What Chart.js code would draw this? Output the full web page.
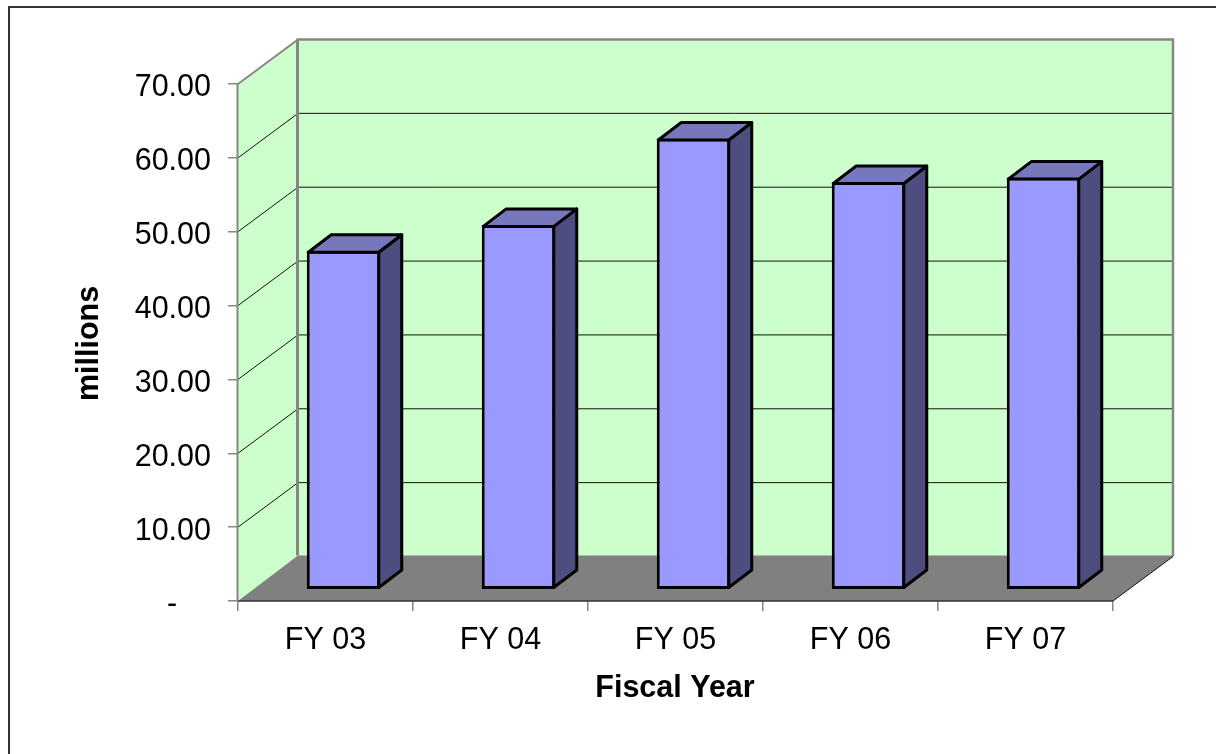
<!DOCTYPE html>
<html>
<head>
<meta charset="utf-8">
<title>Fiscal Year</title>
<script src="https://cdn.jsdelivr.net/npm/chart.js@4/dist/chart.umd.min.js"></script>
<style>
  html, body { margin: 0; padding: 0; background: #fff; }
  #wrap { position: relative; width: 1216px; height: 754px; overflow: hidden; }
  #frame { position: absolute; left: 8px; top: 6px; width: 1300px; height: 900px; border: 2px solid #333; box-sizing: border-box; pointer-events: none; }
  canvas { display: block; }
</style>
</head>
<body>
<div id="wrap">
  <canvas id="chart" width="1216" height="754"></canvas>
  <div id="frame"></div>
</div>
<script>
const categories = ['FY 03', 'FY 04', 'FY 05', 'FY 06', 'FY 07'];
const values = [45.8, 49.3, 61.0, 55.1, 55.7];
const yTicks = [0, 10, 20, 30, 40, 50, 60, 70];
const yAxisTitle = 'millions';
const xAxisTitle = 'Fiscal Year';

const FONT = '"Liberation Sans", Arial, sans-serif';
const WALL = '#ccffcc';
const FLOOR = '#808080';
const AXIS_GRAY = '#868686';
const BAR_LINE = 3;
// Depth of the 3D box, and of each bar
const DX = 60, DY = 44.5;
const BAR_DX = 23, BAR_DY = 17.5;
// Bars stand this far into the floor
const INSET_X = 18, INSET_Y = 12;

const poly = (ctx, pts, fill, stroke, lw) => {
  ctx.beginPath();
  pts.forEach((p, i) => (i ? ctx.lineTo(p[0], p[1]) : ctx.moveTo(p[0], p[1])));
  ctx.closePath();
  if (fill) { ctx.fillStyle = fill; ctx.fill(); }
  if (stroke) { ctx.strokeStyle = stroke; ctx.lineWidth = lw; ctx.lineJoin = 'round'; ctx.stroke(); }
};

const seg = (ctx, x1, y1, x2, y2, color, lw) => {
  ctx.beginPath();
  ctx.moveTo(x1, y1);
  ctx.lineTo(x2, y2);
  ctx.strokeStyle = color;
  ctx.lineWidth = lw;
  ctx.stroke();
};

// ─── 3D WALLS AND FLOOR ────────────────────────────────
const box3d = {
  id: 'box3d',
  beforeDatasetsDraw(chart) {
    const { ctx, chartArea: a, scales: { y } } = chart;
    const l = a.left, r = a.right, t = a.top, b = a.bottom;
    ctx.save();
    // side wall, back wall, floor
    poly(ctx, [[l, b], [l + DX, b - DY], [l + DX, t - DY], [l, t]], WALL);
    poly(ctx, [[l + DX, t - DY], [r + DX, t - DY], [r + DX, b - DY], [l + DX, b - DY]], WALL);
    poly(ctx, [[l, b], [l + DX, b - DY - 1], [r + DX, b - DY - 1], [r + DX, b - DY], [r, b]], FLOOR);
    // gridlines on both walls
    yTicks.slice(1, -1).forEach(v => {
      const py = y.getPixelForValue(v);
      seg(ctx, l, py, l + DX, py - DY, '#111', 1);
      seg(ctx, l + DX, py - DY, r + DX, py - DY, '#111', 1);
    });
    // wall outlines
    seg(ctx, l, t, l + DX, t - DY, AXIS_GRAY, 2);
    seg(ctx, l + DX - 1.5, t - DY, r + DX + 1, t - DY, AXIS_GRAY, 2.5);
    seg(ctx, l + DX - 0.5, t - DY, l + DX - 0.5, b - DY - 1, AXIS_GRAY, 3);
    seg(ctx, r + DX, t - DY, r + DX, b - DY, AXIS_GRAY, 2.5);
    seg(ctx, r, b, r + DX, b - DY, '#111', 1);
    seg(ctx, l, b, r, b, '#333', 1.5);
    seg(ctx, l - 0.5, t, l - 0.5, b, AXIS_GRAY, 2);
    ctx.restore();
    // bars are pushed back onto the floor
    ctx.save();
    ctx.translate(INSET_X, 0);
  },
  afterDatasetsDraw(chart) {
    const { ctx } = chart;
    chart.getDatasetMeta(0).data.forEach(bar => {
      // the library draws its border inside the bar, so follow the middle of that line
      const inset = BAR_LINE / 2;
      const x0 = bar.x - bar.width / 2 + inset, x1 = bar.x + bar.width / 2 - inset;
      const top = bar.y + inset, base = bar.base - inset;
      poly(ctx, [[x1, top], [x1 + BAR_DX, top - BAR_DY], [x1 + BAR_DX, base - BAR_DY], [x1, base]], '#4d4d80', '#000', BAR_LINE);
      poly(ctx, [[x0, top], [x0 + BAR_DX, top - BAR_DY], [x1 + BAR_DX, top - BAR_DY], [x1, top]], '#7777bb', '#000', BAR_LINE);
    });
    ctx.restore();
  },
  afterDraw(chart) {
    const { ctx } = chart;
    ctx.save();
    ctx.fillStyle = '#000';
    ctx.font = `bold 30.5px ${FONT}`;
    ctx.textAlign = 'center';
    ctx.textBaseline = 'middle';
    ctx.fillText(xAxisTitle, 675, 688.5);
    ctx.translate(90, 343.5);
    ctx.rotate(-Math.PI / 2);
    ctx.fillText(yAxisTitle, 0, 0);
    ctx.restore();
  }
};

// ─── CHART ─────────────────────────────────────────────
new Chart(document.getElementById('chart'), {
  type: 'bar',
  data: {
    labels: categories,
    datasets: [{
      data: values,
      yAxisID: 'yBar',
      backgroundColor: '#9999ff',
      borderColor: '#000',
      borderWidth: BAR_LINE,
      borderSkipped: false,
      categoryPercentage: 1,
      barPercentage: 0.42
    }]
  },
  options: {
    responsive: false,
    animation: false,
    // scale boxes are fixed in afterFit, so left + y width and bottom + x height set the plot area
    layout: { padding: { left: 108, right: 103, top: 84, bottom: 83 } },
    plugins: { legend: { display: false }, tooltip: { enabled: false } },
    scales: {
      x: {
        afterFit: s => { s.height = 70; },
        grid: { display: true, drawOnChartArea: false, color: AXIS_GRAY, tickLength: 10, lineWidth: 1.5 },
        border: { display: false },
        ticks: { color: '#000', font: { family: FONT, size: 30.5 }, padding: 11, maxRotation: 0 }
      },
      y: {
        min: 0,
        max: 70,
        afterFit: s => { s.width = 130; },
        afterBuildTicks: s => { s.ticks = yTicks.map(value => ({ value })); },
        grid: { display: true, drawOnChartArea: false, color: AXIS_GRAY, tickLength: 10, lineWidth: 1.5 },
        border: { display: false },
        ticks: {
          color: '#000',
          font: { family: FONT, size: 30.5 },
          padding: 17,
          labelOffset: 4,
          // accounting format: the dash for zero keeps some space on its right
          callback: v => (v === 0 ? '-    ' : v.toFixed(2))
        }
      },
      // same pixels as y, but 0 sits on the bars' footprint inside the floor
      yBar: {
        display: false,
        min: -INSET_Y * 70 / 517,
        max: 70 - INSET_Y * 70 / 517
      }
    }
  },
  plugins: [box3d]
});
</script>
</body>
</html>
